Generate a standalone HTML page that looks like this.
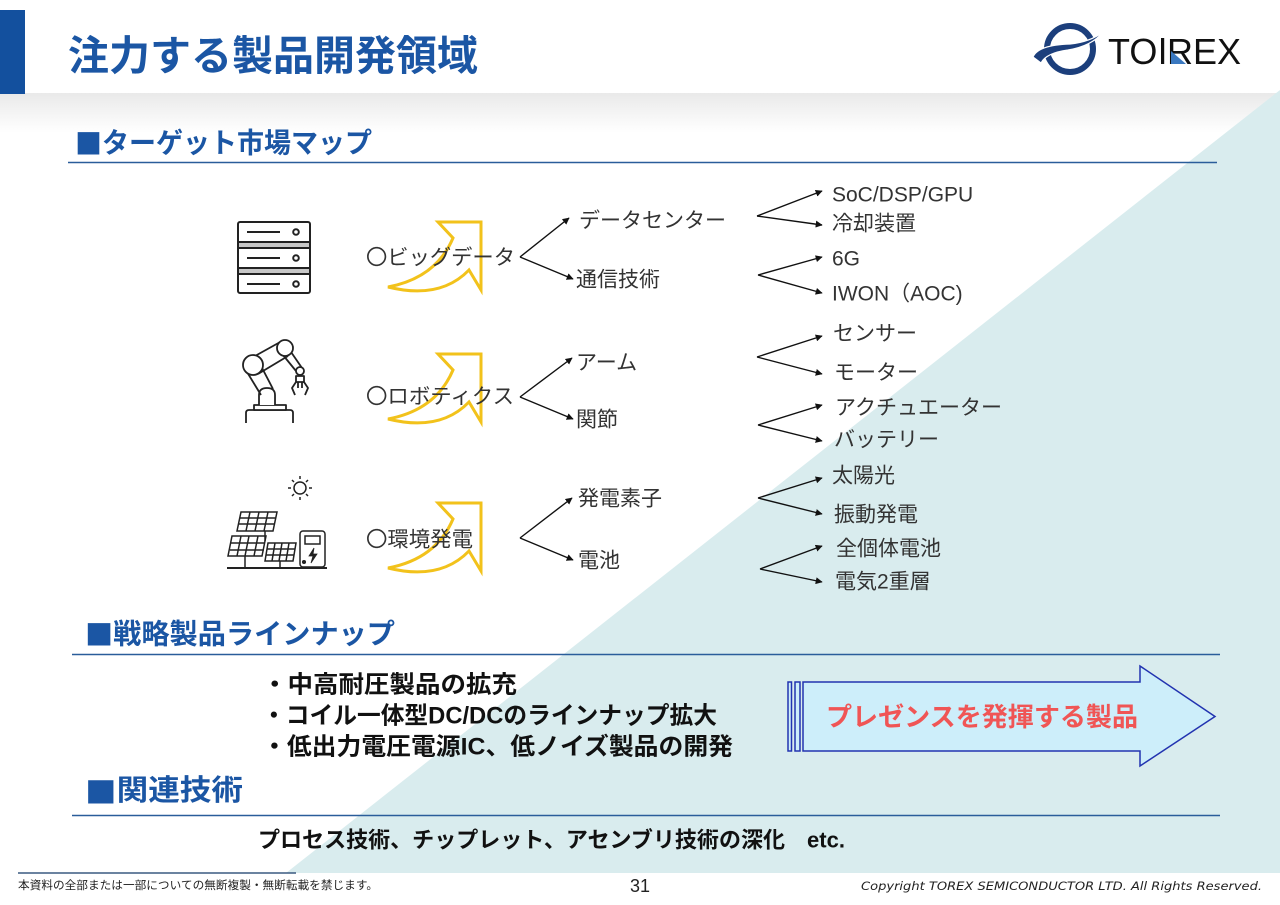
<!DOCTYPE html>
<html><head><meta charset="utf-8"><style>
html,body{margin:0;padding:0;background:#fff;}
svg{display:block;}
text{font-family:"Liberation Sans","Noto Sans CJK JP",sans-serif;}
.d{font-size:21px;fill:#333;dominant-baseline:central;}
.h{font-weight:700;fill:#1b56a4;dominant-baseline:central;}
.b{font-weight:700;fill:#111;dominant-baseline:central;}
.sq{font-family:"Noto Sans CJK JP",sans-serif;}
</style></head><body>
<svg width="1280" height="905" viewBox="0 0 1280 905" xmlns="http://www.w3.org/2000/svg">
<defs>
<linearGradient id="g" x1="0" y1="0" x2="0" y2="1"><stop offset="0" stop-color="#e9e9e9"/><stop offset="1" stop-color="#ffffff"/></linearGradient>
<marker id="m" viewBox="0 0 10 10" refX="9" refY="5" markerWidth="7" markerHeight="7" markerUnits="userSpaceOnUse" orient="auto"><path d="M0,0 L10,5 L0,10 Z" fill="#111"/></marker>
</defs>
<rect x="0" y="93" width="1280" height="40" fill="url(#g)"/>
<polygon points="1280,90 1280,873 286,873" fill="#d9ecee"/>
<!-- header -->
<rect x="0" y="10" width="25" height="84" fill="#13509e"/>
<text x="68" y="56" class="h" font-size="41" textLength="410" lengthAdjust="spacingAndGlyphs">注力する製品開発領域</text>
<!-- logo -->
<circle cx="1070" cy="49" r="23" fill="none" stroke="#1c3f7c" stroke-width="6"/>
<path d="M1033,57 Q1038,45 1070,44 Q1090,42 1103,32 Q1092,46 1068,50 Q1046,53 1041,63 Z" fill="#1c3f7c" stroke="#fff" stroke-width="1.2"/>
<text x="1108" y="64" font-size="36" fill="#111">TO</text>
<rect x="1161" y="38" width="3.2" height="26" fill="#111"/>
<text x="1167" y="64" font-size="36" fill="#111">REX</text>
<polygon points="1171,51 1171,64 1186,64" fill="#3a78c0"/>
<!-- section 1 -->
<text x="75" y="143" class="h" font-size="28" textLength="297" lengthAdjust="spacingAndGlyphs"><tspan class="sq">■</tspan>ターゲット市場マップ</text>
<line x1="68" y1="162.5" x2="1217" y2="162.5" stroke="#2a5d9a" stroke-width="1.5"/>
<!-- server icon -->
<g stroke="#222" stroke-width="2" fill="#fff">
<rect x="238" y="222" width="72" height="71" rx="2"/>
<rect x="238" y="242" width="72" height="6" fill="#c8c8c8"/>
<rect x="238" y="268" width="72" height="6" fill="#c8c8c8"/>
<line x1="247" y1="232" x2="280" y2="232"/><line x1="247" y1="258" x2="280" y2="258"/><line x1="247" y1="284" x2="280" y2="284"/>
<circle cx="296" cy="232" r="2.8"/><circle cx="296" cy="258" r="2.8"/><circle cx="296" cy="284" r="2.8"/>
</g>
<!-- robot icon -->
<g stroke="#222" stroke-width="1.8" fill="#fff" stroke-linejoin="round">
<path d="M246,423 L246,413 Q246,410 249,410 L290,410 Q293,410 293,413 L293,423"/>
<rect x="254" y="405" width="32" height="5"/>
<path d="M259,405 L259,395 Q259,388 267,388 Q275,388 275,395 L275,405"/>
<path d="M247,372 L261,395 M260,364 L273,389"/>
<path d="M255,356 L282,341 M258,374 L288,356"/>
<path d="M291,352 L302,368 M283,355 L296,371"/>
<circle cx="253" cy="365" r="10"/>
<circle cx="285" cy="348" r="8"/>
<circle cx="300" cy="371" r="4"/>
<rect x="296" y="376" width="8" height="6"/>
<path d="M296,382 L292,388 L295,395 M304,382 L308,388 L305,395 M298,382 L298,388 M302,382 L302,388" fill="none"/>
</g>
<!-- solar icon -->
<g stroke="#222" stroke-width="1.5" fill="none">
<circle cx="300" cy="488" r="6"/>
<path d="M300,476 L300,479 M300,497 L300,500 M288,488 L291,488 M309,488 L312,488 M292,480 L294,482 M306,494 L308,496 M308,480 L306,482 M294,494 L292,496"/>
<path d="M241,512 L277,512 L273,531 L237,531 Z M240,518 L276,518 M239,524 L275,524 M250,512 L246,531 M259,512 L255,531 M268,512 L264,531"/>
<path d="M265,531 L265,541"/>
<path d="M232,536 L266,536 L262,556 L228,556 Z M231,543 L265,543 M230,550 L264,550 M241,536 L237,556 M249,536 L245,556 M258,536 L254,556"/>
<path d="M268,543 L296,543 L293,561 L265,561 Z M267,549 L295,549 M266,555 L294,555 M275,543 L272,561 M282,543 L279,561 M289,543 L286,561"/>
<path d="M245,556 L245,568 M280,561 L280,568"/>
<rect x="300" y="531" width="25" height="36" rx="3"/>
<rect x="305" y="536" width="15" height="8"/>
<path d="M314,548 L309,556 L313,556 L311,563 L317,554 L313,554 Z" fill="#222" stroke-width="0.8"/>
<circle cx="304" cy="562" r="1.3" fill="#222"/>
<line x1="227" y1="568" x2="327" y2="568" stroke-width="2"/>
</g>
<!-- yellow arrows -->
<g fill="none" stroke="#f2c21b" stroke-width="3" stroke-linejoin="miter">
<path d="M438,222 L481,222 L481,290 L469,270 Q440,300 388,287 Q436,278 453,238 Z"/>
<path d="M438,354 L481,354 L481,422 L469,402 Q440,432 388,419 Q436,410 453,370 Z"/>
<path d="M438,503 L481,503 L481,571 L469,551 Q440,581 388,568 Q436,559 453,519 Z"/>
</g>
<!-- category labels -->
<text x="366" y="258" class="d" textLength="149" lengthAdjust="spacingAndGlyphs">〇ビッグデータ</text>
<text x="366" y="397" class="d" textLength="148" lengthAdjust="spacingAndGlyphs">〇ロボティクス</text>
<text x="366" y="540" class="d" textLength="107" lengthAdjust="spacingAndGlyphs">〇環境発電</text>
<!-- connectors -->
<g stroke="#111" stroke-width="1.4" fill="none" marker-end="url(#m)">
<line x1="520" y1="257" x2="569" y2="218"/><line x1="520" y1="257" x2="573" y2="279"/>
<line x1="520" y1="397" x2="572" y2="358"/><line x1="520" y1="397" x2="573" y2="419"/>
<line x1="520" y1="538" x2="572" y2="498"/><line x1="520" y1="538" x2="573" y2="560"/>
<line x1="757" y1="216" x2="822" y2="191"/><line x1="757" y1="216" x2="822" y2="225"/>
<line x1="758" y1="275" x2="822" y2="257"/><line x1="758" y1="275" x2="822" y2="293"/>
<line x1="757" y1="357" x2="822" y2="336"/><line x1="757" y1="357" x2="822" y2="374"/>
<line x1="758" y1="425" x2="822" y2="405"/><line x1="758" y1="425" x2="822" y2="441"/>
<line x1="758" y1="498" x2="822" y2="478"/><line x1="758" y1="498" x2="822" y2="514"/>
<line x1="760" y1="569" x2="822" y2="546"/><line x1="760" y1="569" x2="822" y2="582"/>
</g>
<text x="579" y="221" class="d">データセンター</text>
<text x="576" y="280" class="d">通信技術</text>
<text x="576" y="363" class="d">アーム</text>
<text x="576" y="420" class="d">関節</text>
<text x="578" y="499" class="d">発電素子</text>
<text x="578" y="561" class="d">電池</text>
<text x="832" y="195" class="d">SoC/DSP/GPU</text>
<text x="832" y="224" class="d">冷却装置</text>
<text x="832" y="259" class="d">6G</text>
<text x="832" y="294" class="d">IWON（AOC)</text>
<text x="833" y="334" class="d">センサー</text>
<text x="834" y="373" class="d">モーター</text>
<text x="835" y="408" class="d">アクチュエーター</text>
<text x="834" y="440" class="d">バッテリー</text>
<text x="832" y="476" class="d">太陽光</text>
<text x="834" y="515" class="d">振動発電</text>
<text x="836" y="549" class="d">全個体電池</text>
<text x="835" y="582" class="d">電気2重層</text>
<!-- section 2 -->
<text x="85" y="634" class="h" font-size="28" textLength="310" lengthAdjust="spacingAndGlyphs"><tspan class="sq">■</tspan>戦略製品ラインナップ</text>
<line x1="72" y1="654.5" x2="1220" y2="654.5" stroke="#2a5d9a" stroke-width="1.5"/>
<text x="262" y="685" class="b" font-size="24" textLength="255" lengthAdjust="spacingAndGlyphs">・中高耐圧製品の拡充</text>
<text x="262" y="716" class="b" font-size="24" textLength="455" lengthAdjust="spacingAndGlyphs">・コイル一体型DC/DCのラインナップ拡大</text>
<text x="262" y="747" class="b" font-size="24" textLength="471" lengthAdjust="spacingAndGlyphs">・低出力電圧電源IC、低ノイズ製品の開発</text>
<!-- block arrow -->
<g stroke="#2233b0" stroke-width="1.5" fill="#cdeefa">
<rect x="788" y="682" width="3.5" height="69"/>
<rect x="795" y="682" width="5" height="69"/>
<path d="M803,682 L1140,682 L1140,666 L1215,716.5 L1140,766 L1140,751 L803,751 Z"/>
</g>
<text x="826" y="717" font-size="26" font-weight="700" fill="#f05555" dominant-baseline="central" textLength="312" lengthAdjust="spacingAndGlyphs">プレゼンスを発揮する製品</text>
<!-- section 3 -->
<text x="85" y="791" class="h" font-size="29" textLength="158" lengthAdjust="spacingAndGlyphs"><tspan class="sq">■</tspan>関連技術</text>
<line x1="72" y1="815.5" x2="1220" y2="815.5" stroke="#2a5d9a" stroke-width="1.5"/>
<text x="258" y="840" class="b" font-size="22" textLength="587" lengthAdjust="spacingAndGlyphs">プロセス技術、チップレット、アセンブリ技術の深化　etc.</text>
<!-- footer -->
<line x1="18" y1="873" x2="296" y2="873" stroke="#3a5a80" stroke-width="1.5"/>
<text x="18" y="886" font-size="11.5" fill="#222" dominant-baseline="central" textLength="360" lengthAdjust="spacingAndGlyphs">本資料の全部または一部についての無断複製・無断転載を禁じます。</text>
<text x="630" y="886" font-size="18" fill="#222" dominant-baseline="central">31</text>
<text x="861" y="886" font-size="11.5" font-style="italic" fill="#222" dominant-baseline="central" style="font-family:'DejaVu Sans','Liberation Sans',sans-serif" textLength="401" lengthAdjust="spacingAndGlyphs">Copyright TOREX SEMICONDUCTOR LTD.  All Rights Reserved.</text>
</svg>
</body></html>
